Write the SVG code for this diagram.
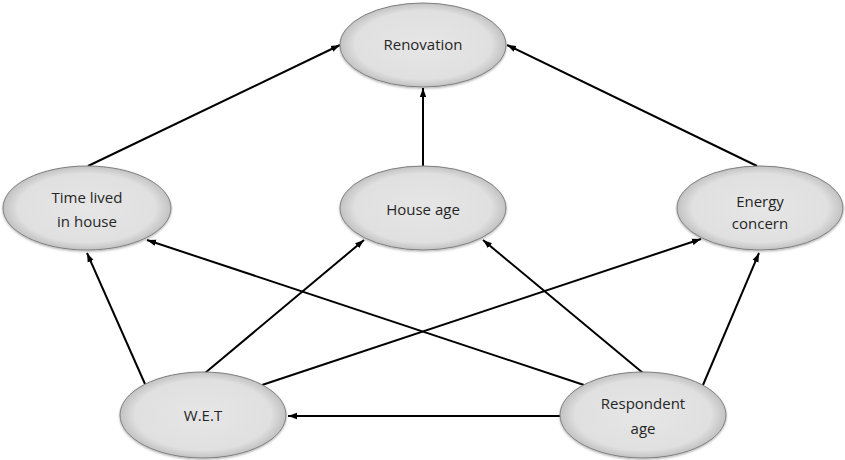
<svg xmlns="http://www.w3.org/2000/svg" width="845" height="460" viewBox="0 0 845 460">
  <defs>
    <radialGradient id="nodeFill" cx="50%" cy="50%" r="50%">
      <stop offset="0%" stop-color="#e6e6e6"/>
      <stop offset="82%" stop-color="#e0e0e0"/>
      <stop offset="100%" stop-color="#c2c2c2"/>
    </radialGradient>
    <filter id="shadow" x="-10%" y="-10%" width="120%" height="130%">
      <feDropShadow dx="0" dy="1.2" stdDeviation="1" flood-color="#000" flood-opacity="0.3"/>
    </filter>
    <marker id="arrow" markerUnits="userSpaceOnUse" markerWidth="10" markerHeight="8" refX="9" refY="4" orient="auto">
      <path d="M0,0.8 L9,4 L0,7.2 Z" fill="#000"/>
    </marker>
    <style>
      .node ellipse { fill: url(#nodeFill); stroke: #7f7f7f; stroke-width: 1; filter: url(#shadow); }
      .node text { font-family: "Open Sans", "Noto Sans", sans-serif; font-size: 15px; fill: #262626; text-anchor: middle; dominant-baseline: central; }
      .edge { stroke: #000; stroke-width: 2; fill: none; marker-end: url(#arrow); }
    </style>
  </defs>

  <g id="connectors">
    <line class="edge" x1="88" y1="166" x2="340" y2="45"/>
    <line class="edge" x1="757" y1="166" x2="507" y2="45"/>
    <line class="edge" x1="423" y1="166" x2="423" y2="88"/>
    <line class="edge" x1="145" y1="384" x2="87" y2="253"/>
    <line class="edge" x1="205" y1="373" x2="364" y2="240"/>
    <line class="edge" x1="262" y1="385" x2="701" y2="239"/>
    <line class="edge" x1="584" y1="385" x2="147" y2="240"/>
    <line class="edge" x1="643" y1="373" x2="483" y2="240"/>
    <line class="edge" x1="703" y1="385" x2="759" y2="253"/>
    <line class="edge" x1="560" y1="416" x2="288" y2="416"/>
  </g>

  <g id="renovation" class="node">
    <ellipse cx="423" cy="45" rx="83" ry="42"/>
    <text x="423" y="44">Renovation</text>
  </g>

  <g id="time-lived" class="node">
    <ellipse cx="87" cy="208" rx="84" ry="42"/>
    <text x="87" y="197">Time lived</text>
    <text x="87" y="221">in house</text>
  </g>

  <g id="house-age" class="node">
    <ellipse cx="423" cy="208" rx="83" ry="42"/>
    <text x="423" y="209">House age</text>
  </g>

  <g id="energy-concern" class="node">
    <ellipse cx="760" cy="208" rx="83" ry="42"/>
    <text x="760" y="201">Energy</text>
    <text x="760" y="223">concern</text>
  </g>

  <g id="wet" class="node">
    <ellipse cx="203" cy="415" rx="83" ry="43"/>
    <text x="203" y="415">W.E.T</text>
  </g>

  <g id="respondent-age" class="node">
    <ellipse cx="643" cy="415" rx="83" ry="43"/>
    <text x="643" y="403">Respondent</text>
    <text x="643" y="428">age</text>
  </g>
</svg>
